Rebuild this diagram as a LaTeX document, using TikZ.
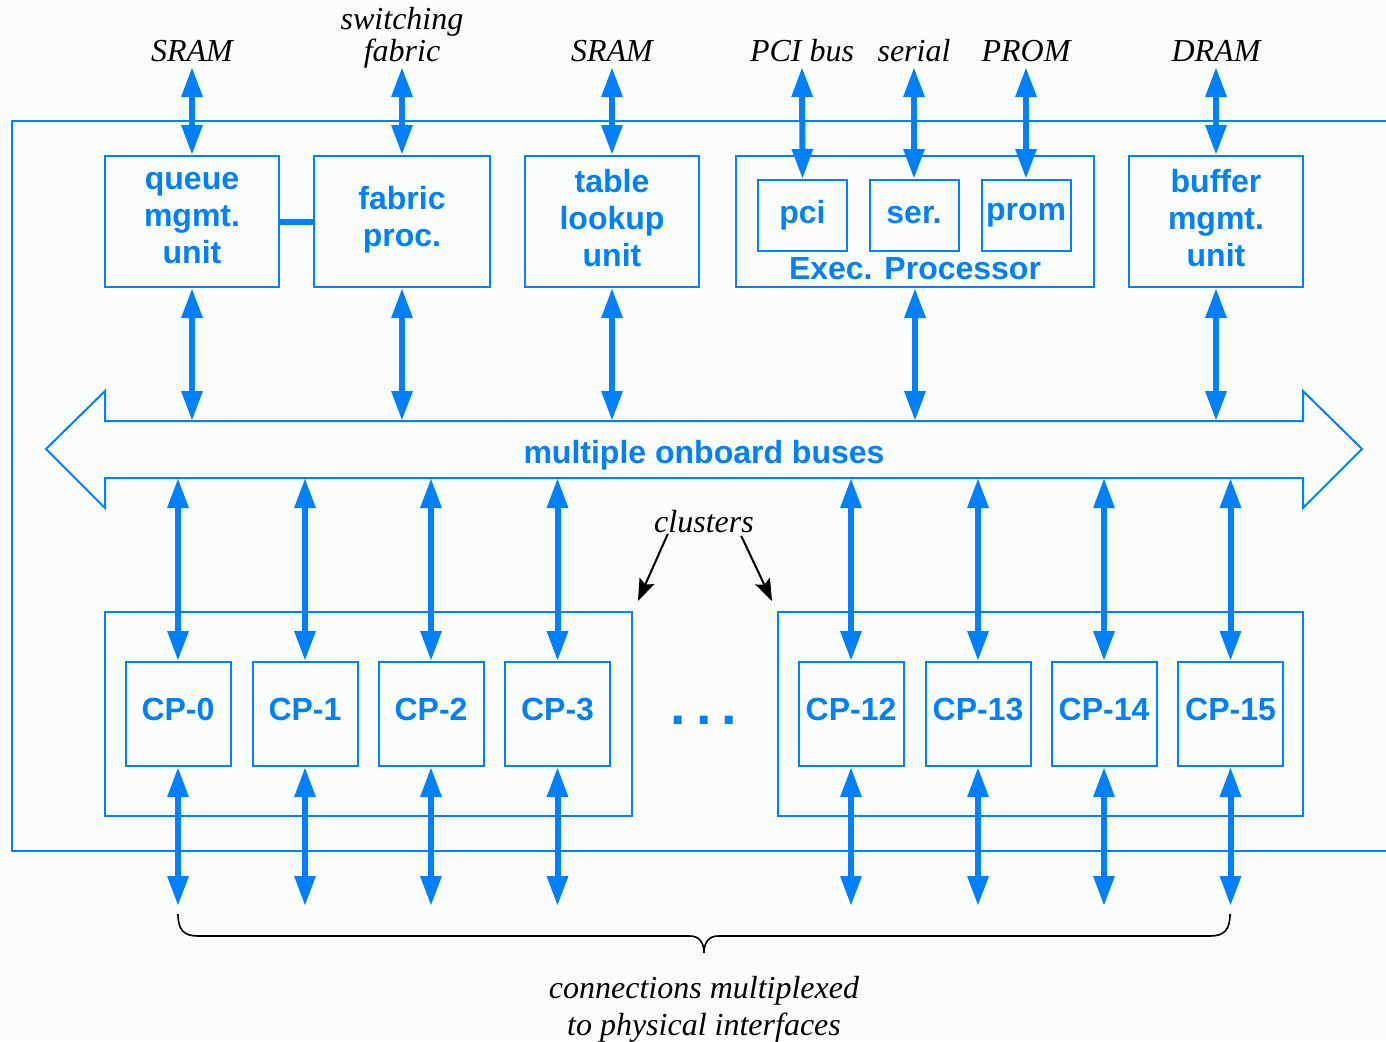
\documentclass[tikz,border=0pt]{standalone}
\usepackage{fontspec}
\setmainfont{Liberation Serif}
\newfontfamily\labelsans{Liberation Sans}
\usetikzlibrary{arrows.meta}
\definecolor{netblue}{RGB}{0,128,255}
\definecolor{paper}{RGB}{251,253,251}
\begin{document}
\begin{tikzpicture}[x=0.5pt,y=-0.5pt,
  bluefont/.style={font={\labelsans\bfseries\fontsize{16}{18.5}\selectfont}, text=netblue},
  box/.style={draw=netblue, line width=1pt, inner sep=0pt, align=center, bluefont},
  unitbox/.style={box, minimum width=87pt, minimum height=65.5pt, text depth=4pt},
  iobox/.style={box, minimum width=44.5pt, minimum height=35.5pt},
  cpbox/.style={box, minimum width=52.5pt, minimum height=52pt, text depth=5pt},
  clusterbox/.style={draw=netblue, line width=1pt, minimum height=102pt, inner sep=0pt},
  extlabel/.style={font={\itshape\fontsize{16}{14}\selectfont}, inner sep=0pt, anchor=base, align=center},
  note/.style={font={\itshape\fontsize{16}{18.5}\selectfont}, inner sep=0pt, anchor=base, align=center},
  bi/.style={draw=netblue, line width=3pt,
    {Triangle[length=15pt,width=10pt]}-{Triangle[length=15pt,width=10pt]}},
  thin/.style={draw=netblue, line width=1pt},
  pointer/.style={draw=black, line width=1pt, -{Stealth[length=11pt,width=8pt,inset=2pt]}}
]
% page
\fill[paper] (0,0) rectangle (1386,1041);
\useasboundingbox (0,0) rectangle (1386,1041);

% board outline, running off the right side
\draw[thin] (1386,121) -- (12,121) -- (12,851) -- (1386,851);

% external interface labels
\node[extlabel] (lsram1) at (192,61) {SRAM};
\node[extlabel] (lfabric) at (402,61) {switching\\fabric};
\node[extlabel] (lsram2) at (612,61) {SRAM};
\node[extlabel] (lpci) at (802,61) {PCI bus};
\node[extlabel] (lserial) at (914,61) {serial};
\node[extlabel] (lprom) at (1026,61) {PROM};
\node[extlabel] (ldram) at (1216,61) {DRAM};
\coordinate (extend) at (0,67);

% functional units
\node[unitbox] (qmu) at (192,221.5) {queue\\mgmt.\\unit};
\node[unitbox, minimum width=88pt, text depth=5.5pt] (fab) at (402,221.5) {fabric\\proc.};
\node[unitbox] (tlu) at (612,221.5) {table\\lookup\\unit};
\node[unitbox, minimum width=179pt] (exec) at (915,221.5) {};
\node[unitbox] (bmu) at (1216,221.5) {buffer\\mgmt.\\unit};
\node[iobox] (pci) at (802.5,215.5) {pci};
\node[iobox] (ser) at (914,215.5) {ser.};
\node[iobox] (prom) at (1026,215.5) {prom};
\node[bluefont, inner sep=0pt] (execlbl) at (915,269) {Exec. Processor};

% external connections
\draw[bi] (lsram1 |- extend) -- (qmu.north);
\draw[bi] (lfabric |- extend) -- (fab.north);
\draw[bi] (lsram2 |- extend) -- (tlu.north);
\draw[bi] (lpci |- extend) -- (pci.north);
\draw[bi] (lserial |- extend) -- (ser.north);
\draw[bi] (lprom |- extend) -- (prom.north);
\draw[bi] (ldram |- extend) -- (bmu.north);
\draw[netblue, line width=3pt] (qmu.east) -- (fab.west);

% onboard bus
\draw[thin] (46,449) -- (105,391) -- (105,421) -- (1303,421) -- (1303,391)
  -- (1362,449) -- (1303,508) -- (1303,478) -- (105,478) -- (105,508) -- cycle;
\node[bluefont, inner sep=0pt] (bus) at (704,455) {multiple onboard buses};
\coordinate (bustop) at (0,421);
\coordinate (busbot) at (0,478);

\draw[bi] (qmu.south) -- (qmu.south |- bustop);
\draw[bi] (fab.south) -- (fab.south |- bustop);
\draw[bi] (tlu.south) -- (tlu.south |- bustop);
\draw[bi] (exec.south) -- (exec.south |- bustop);
\draw[bi] (bmu.south) -- (bmu.south |- bustop);

% clusters of channel processors
\node[clusterbox, minimum width=263.5pt] (cl1) at (368.5,714) {};
\node[clusterbox, minimum width=262.5pt] (cl2) at (1040.5,714) {};
\node[cpbox] (cp0) at (178,714) {CP-0};
\node[cpbox] (cp1) at (305,714) {CP-1};
\node[cpbox] (cp2) at (431,714) {CP-2};
\node[cpbox] (cp3) at (557.5,714) {CP-3};
\node[cpbox] (cp12) at (851,714) {CP-12};
\node[cpbox] (cp13) at (978,714) {CP-13};
\node[cpbox] (cp14) at (1104,714) {CP-14};
\node[cpbox] (cp15) at (1230.5,714) {CP-15};
\node[text=netblue, inner sep=0pt, font={\labelsans\bfseries\fontsize{28}{28}\selectfont}] (dots) at (704,720) {.\kern5pt.\kern5pt.};

\coordinate (ioend) at (0,906);
\foreach \c in {cp0,cp1,cp2,cp3,cp12,cp13,cp14,cp15}{
  \draw[bi] (\c.north) -- (\c.north |- busbot);
  \draw[bi] (\c.south) -- (\c.south |- ioend);
}

% cluster annotation
\node[note] (clusters) at (704,532) {clusters};
\draw[pointer] ([shift={(14,1)}]clusters.south west) -- ([shift={(5,-10)}]cl1.north east);
\draw[pointer] ([shift={(-13,3)}]clusters.south east) -- ([shift={(-5,-10)}]cl2.north west);

% brace over the physical interfaces
\draw[black, line width=0.8pt]
  (178,914) .. controls (178,930) and (184,936) .. (198,936) -- (690,936)
  .. controls (698,936) and (704,941) .. (704,953)
  .. controls (704,941) and (710,936) .. (718,936) -- (1210,936)
  .. controls (1224,936) and (1230,930) .. (1230,914);
\node[note] (phys) at (704,1035) {connections multiplexed\\to physical interfaces};
\end{tikzpicture}
\end{document}
